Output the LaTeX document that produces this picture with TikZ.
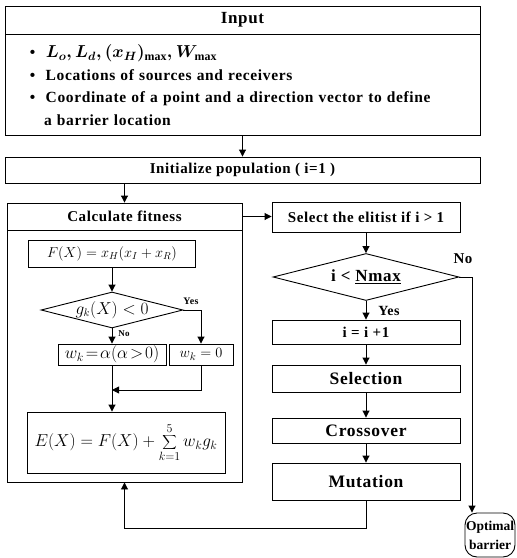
\documentclass[tikz,border=0pt]{standalone}
\usepackage{fontspec}
\setmainfont{Liberation Serif}[LetterSpace=4]
\usetikzlibrary{arrows.meta,shapes.geometric}
\begin{document}
\begin{tikzpicture}[x=1pt,y=-1pt,
  box/.style={draw,line width=0.9pt,inner sep=0pt,font=\bfseries\fontsize{15}{17}\selectfont},
  big/.style={font=\bfseries\fontsize{17.5}{19}\selectfont},
  arr/.style={line width=0.9pt,-{Triangle[length=7pt,width=7pt]}},
  dia/.style={draw,diamond,line width=0.9pt,inner sep=0pt,shape aspect=4},
  lbl/.style={inner sep=0pt}]
\useasboundingbox (0,0) rectangle (517,558);
% Input block
\node[box,font=\bfseries\fontsize{17}{19}\selectfont,minimum width=475pt,minimum height=28pt] (inhead) at (242.5,20) {Input};
\node[box,minimum width=475pt,minimum height=101pt,text width=465pt,align=left,
      font=\bfseries\fontsize{15.5}{22.5}\selectfont] (inbody) at (242.5,85)
  {\hspace*{20pt}\textbullet\ \ {\fontsize{17}{22.5}\selectfont\boldmath$L_o, L_d, (x_H)_{\mathrm{max}}, W_{\mathrm{max}}$}\\
   \hspace*{20pt}\textbullet\ \ Locations of sources and receivers\\
   \hspace*{20pt}\textbullet\ \ Coordinate of a point and a direction vector to define\\
   \hspace*{34pt}a barrier location};
% Initialize
\node[box,minimum width=475pt,minimum height=26pt] (init) at (242.5,170) {Initialize population ( i=1 )};
% Calculate fitness block
\node[box,minimum width=235pt,minimum height=27pt] (calchead) at (124.5,216.5) {Calculate fitness};
\node[box,minimum width=235pt,minimum height=252pt] (calcbody) at (124.5,356) {};
\node[box,font=\fontsize{14.5}{16}\selectfont,minimum width=167pt,minimum height=27pt] (fbox) at (112,253.5) {$F(X)=x_H(x_I+x_R)$};
\node[dia,font=\fontsize{16}{18}\selectfont,minimum width=140pt,minimum height=36pt] (gdia) at (112,310) {$g_k(X)<0$};
\node[box,font=\fontsize{16.5}{17}\selectfont,minimum width=108pt,minimum height=21pt] (walpha) at (112,354.5) {$w_k\!=\!\alpha(\alpha\!>\!0)$};
\node[box,font=\fontsize{15}{16}\selectfont,minimum width=64pt,minimum height=21pt] (wzero) at (201,354.5) {$w_k=0$};
\node[box,font=\fontsize{17}{19}\selectfont,minimum width=198pt,minimum height=61pt] (ebox) at (126,442.5) {$E(X)=F(X)+\displaystyle\sum_{k=1}^{5} w_k g_k$};
\coordinate (merge) at (112,390);
% Right column
\node[box,minimum width=188pt,minimum height=30pt] (select) at (366,217) {Select the elitist if i > 1};
\node[dia,font=\bfseries\fontsize{17}{19}\selectfont,minimum width=186pt,minimum height=47pt] (rdia) at (366,277) {i < \underline{Nmax}};
\node[box,minimum width=188pt,minimum height=24pt] (iplus) at (366,332) {i = i +1};
\node[box,big,minimum width=188pt,minimum height=27pt] (selection) at (366,378.5) {Selection};
\node[box,big,minimum width=188pt,minimum height=25pt] (crossover) at (366,430.5) {Crossover};
\node[box,big,minimum width=188pt,minimum height=37pt] (mutation) at (366,481.5) {Mutation};
\node[box,rounded corners=12pt,minimum width=50pt,minimum height=44pt,align=center,
      font=\bfseries\fontsize{13.5}{19}\selectfont\addfontfeatures{LetterSpace=0}] (optimal) at (490,535) {Optimal\\barrier};
% Labels
\node[lbl,font=\bfseries\fontsize{10}{11}\selectfont] at (191,301) {Yes};
\node[lbl,font=\bfseries\fontsize{9}{10}\selectfont] at (124,334) {No};
\node[lbl,font=\bfseries\fontsize{15}{16}\selectfont] at (463,259) {No};
\node[lbl,font=\bfseries\fontsize{14}{15}\selectfont] at (389,311) {Yes};
% Connectors
\draw[arr] (inbody.south) -- (init.north);
\draw[arr] (init.south -| calchead.north) -- (calchead.north);
\draw[arr] (calchead.east) -- (calchead.east -| select.west);
\draw[arr] (select.south) -- (rdia.north);
\draw[arr] (rdia.south) -- (iplus.north);
\draw[arr] (iplus.south) -- (selection.north);
\draw[arr] (selection.south) -- (crossover.north);
\draw[arr] (crossover.south) -- (mutation.north);
\draw[arr] (rdia.east) -| ([xshift=-18pt]optimal.north);
\draw[arr] (mutation.south) -- (mutation.south |- 0,528) -| (calcbody.south);
\draw[arr] (fbox.south) -- (gdia.north);
\draw[arr] (gdia.south) -- (walpha.north);
\draw[arr] (gdia.east) -| (wzero.north);
\draw[arr] (walpha.south) -- (ebox.north -| walpha.south);
\draw[arr] (wzero.south) |- (merge);
\end{tikzpicture}
\end{document}
